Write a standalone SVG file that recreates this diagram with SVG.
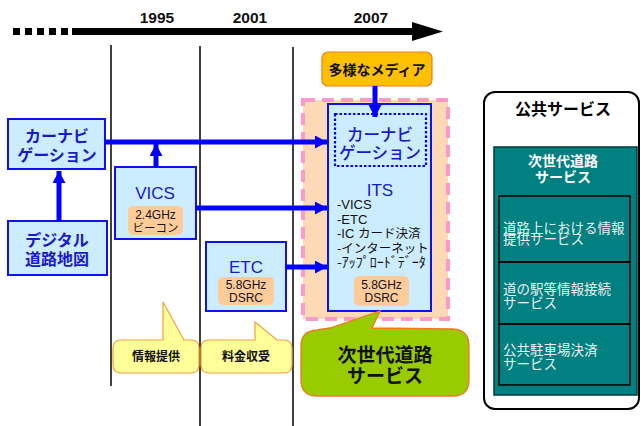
<svg xmlns="http://www.w3.org/2000/svg" width="641" height="426" viewBox="0 0 641 426">
<defs>
<style>
.jp{font-family:"Noto Sans CJK JP","Noto Sans",sans-serif}
.lat{font-family:"Liberation Sans",Arial,sans-serif}
.nodebox{fill:#CCECFF;stroke:#1010F0;stroke-width:2}
.freq{fill:#FFCC99;stroke:none}
.bluet{fill:#1A1AC8}
.vline{stroke:#000;stroke-width:1.5;fill:none}
.conn{stroke:#0000FF;stroke-width:5;fill:none}
.yel{fill:#FFFF99;stroke:#F5A040;stroke-width:1.2}
.wt{fill:#EEEEEE}
</style>
<marker id="ah" markerUnits="userSpaceOnUse" markerWidth="13" markerHeight="13" refX="12" refY="6.5" orient="auto">
<path d="M0,0 L12,6.5 L0,13 Z" fill="#0000FF"/>
</marker>
</defs>
<rect width="641" height="426" fill="#FFFFFF"/>

<g id="timeline">
<g fill="#000">
<rect x="13" y="28" width="7" height="7"/>
<rect x="25" y="28" width="7" height="7"/>
<rect x="37" y="28" width="7" height="7"/>
<rect x="49" y="28" width="7" height="7"/>
<rect x="61" y="28" width="7" height="7"/>
<rect x="72" y="28" width="342" height="7"/>
<path d="M412,22 L443,31.5 L412,41 Z"/>
</g>
<g class="lat" font-size="15.5" font-weight="bold" fill="#111" text-anchor="middle">
<text x="157" y="23">1995</text>
<text x="250" y="23">2001</text>
<text x="371" y="23">2007</text>
</g>
<line class="vline" x1="111" y1="45" x2="111" y2="386"/>
<line class="vline" x1="200" y1="46" x2="200" y2="426"/>
<line class="vline" x1="293" y1="47" x2="293" y2="426"/>
</g>

<g id="its-area">
<rect x="303" y="100" width="145" height="219" fill="#FDD9B5" stroke="#FF99CC" stroke-width="4" stroke-dasharray="12,7"/>
</g>

<g id="carnavi">
<rect class="nodebox" x="8" y="119" width="97" height="50"/>
<text class="jp bluet" x="57" y="142" font-size="16" font-weight="bold" text-anchor="middle">カーナビ</text>
<text class="jp bluet" x="57" y="161" font-size="16" font-weight="bold" text-anchor="middle">ゲーション</text>
</g>

<g id="digital-map">
<rect class="nodebox" x="8" y="221" width="99" height="54"/>
<text class="jp bluet" x="57" y="246" font-size="16" font-weight="bold" text-anchor="middle">デジタル</text>
<text class="jp bluet" x="57" y="265" font-size="16" font-weight="bold" text-anchor="middle">道路地図</text>
</g>

<g id="vics">
<rect class="nodebox" x="115" y="167" width="81" height="72"/>
<text class="lat bluet" x="155" y="199" font-size="17" text-anchor="middle">VICS</text>
<rect class="freq" x="128" y="206" width="55" height="29" rx="5"/>
<text class="lat" x="155.5" y="219" font-size="12" fill="#111" text-anchor="middle">2.4GHz</text>
<text class="jp" x="155.5" y="232" font-size="11.5" fill="#111" text-anchor="middle">ビーコン</text>
</g>

<g id="etc">
<rect class="nodebox" x="206" y="242" width="80" height="69"/>
<text class="lat bluet" x="246" y="273" font-size="17" text-anchor="middle">ETC</text>
<rect class="freq" x="218" y="277" width="56" height="28" rx="5"/>
<text class="lat" x="246" y="289" font-size="12" fill="#111" text-anchor="middle">5.8GHz</text>
<text class="lat" x="246" y="302" font-size="12" fill="#111" text-anchor="middle">DSRC</text>
</g>

<g id="media">
<rect x="322" y="52" width="110" height="34" rx="6" fill="#FFC000" stroke="#F07A20" stroke-width="1.2"/>
<text class="jp" x="377" y="75" font-size="14" font-weight="bold" fill="#111" text-anchor="middle">多様なメディア</text>
</g>

<g id="its">
<rect class="nodebox" x="328" y="104" width="103" height="207"/>
<rect x="335" y="114" width="91" height="52" fill="none" stroke="#0000FF" stroke-width="2.2" stroke-dasharray="2.5,2"/>
<text class="jp bluet" x="380" y="141" font-size="16.5" font-weight="500" text-anchor="middle">カーナビ</text>
<text class="jp bluet" x="380" y="159" font-size="16.5" font-weight="500" text-anchor="middle">ゲーション</text>
<text class="lat bluet" x="380" y="196" font-size="17" text-anchor="middle">ITS</text>
<g class="jp" font-size="12.5" fill="#111">
<text x="337" y="209"><tspan class="lat" font-size="13">-VICS</tspan></text>
<text x="337" y="224"><tspan class="lat" font-size="13">-ETC</tspan></text>
<text x="337" y="238"><tspan class="lat" font-size="13">-IC </tspan>カード決済</text>
<text x="337" y="253">-インターネット</text>
<text x="337" y="267" font-size="14">-ｱｯﾌﾟﾛｰﾄﾞﾃﾞｰﾀ</text>
</g>
<rect class="freq" x="354" y="276" width="55" height="30" rx="5"/>
<text class="lat" x="381.5" y="289" font-size="12" fill="#111" text-anchor="middle">5.8GHz</text>
<text class="lat" x="381.5" y="302" font-size="12" fill="#111" text-anchor="middle">DSRC</text>
</g>

<g id="callout-info">
<path class="yel" d="M121,340 L163,340 L163,302 L184,340 L191,340 Q199,340 199,348 L199,365 Q199,373 191,373 L121,373 Q113,373 113,365 L113,348 Q113,340 121,340 Z"/>
<text class="jp" x="156" y="361" font-size="12" font-weight="bold" fill="#111" text-anchor="middle">情報提供</text>
</g>

<g id="callout-toll">
<path class="yel" d="M209,340 L255,340 L255,322 L277,340 L284,340 Q292,340 292,348 L292,365 Q292,373 284,373 L209,373 Q201,373 201,365 L201,348 Q201,340 209,340 Z"/>
<text class="jp" x="246" y="361" font-size="12" font-weight="bold" fill="#111" text-anchor="middle">料金収受</text>
</g>

<g id="callout-next">
<path d="M317,330 L330,328 L380,311 L372,328 L453,329 Q469,330 469,346 L469,380 Q469,396 453,396 L317,396 Q301,396 301,380 L301,346 Q301,331 317,330 Z" fill="#99CC00" stroke="#F07A20" stroke-width="1.3"/>
<text class="jp" x="385" y="362" font-size="19" font-weight="bold" fill="#111" text-anchor="middle">次世代道路</text>
<text class="jp" x="385" y="383" font-size="19" font-weight="bold" fill="#111" text-anchor="middle">サービス</text>
</g>

<g id="public-services">
<rect x="484" y="92" width="155" height="317" rx="11" fill="#FFFFFF" stroke="#000" stroke-width="2"/>
<text class="jp" x="563" y="115" font-size="16" font-weight="bold" fill="#000" text-anchor="middle">公共サービス</text>
<rect x="494" y="147" width="143" height="248" fill="#008080" stroke="#003838" stroke-width="1.5"/>
<text class="jp" x="563" y="166" font-size="14" font-weight="bold" fill="#FFFFFF" text-anchor="middle">次世代道路</text>
<text class="jp" x="563" y="182" font-size="14" font-weight="bold" fill="#FFFFFF" text-anchor="middle">サービス</text>
<rect x="499" y="196" width="131" height="66" fill="none" stroke="#000" stroke-width="1.5"/>
<rect x="499" y="262" width="131" height="62" fill="none" stroke="#000" stroke-width="1.5"/>
<rect x="499" y="324" width="131" height="61" fill="none" stroke="#000" stroke-width="1.5"/>
<g class="jp wt" font-size="13.5">
<text x="503" y="233">道路上における情報</text>
<text x="503" y="244">提供サービス</text>
<text x="503" y="294">道の駅等情報接続</text>
<text x="503" y="308">サービス</text>
<text x="503" y="355">公共駐車場決済</text>
<text x="503" y="369">サービス</text>
</g>
</g>

<g id="connectors">
<line class="conn" x1="59" y1="221" x2="59" y2="171" marker-end="url(#ah)"/>
<line class="conn" x1="105" y1="142" x2="327" y2="142" marker-end="url(#ah)"/>
<line class="conn" x1="156" y1="167" x2="156" y2="144" marker-end="url(#ah)"/>
<line class="conn" x1="196" y1="208" x2="327" y2="208" marker-end="url(#ah)"/>
<line class="conn" x1="286" y1="267" x2="327" y2="267" marker-end="url(#ah)"/>
<line class="conn" x1="375" y1="86" x2="375" y2="117" marker-end="url(#ah)"/>
</g>
</svg>
